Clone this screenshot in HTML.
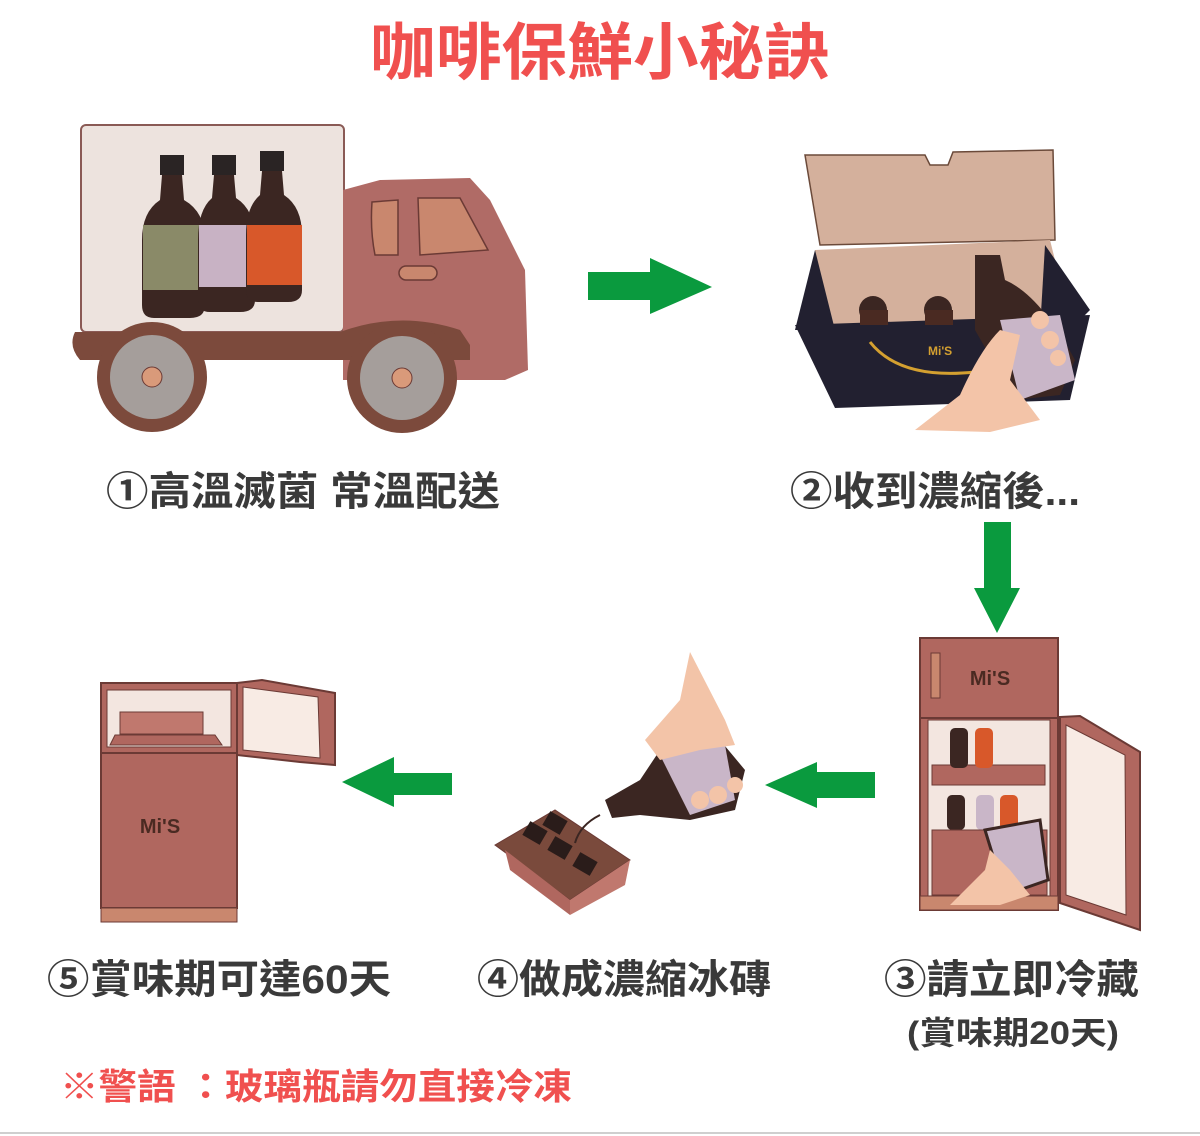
<!DOCTYPE html>
<html><head><meta charset="utf-8"><style>
html,body{margin:0;padding:0;background:#fff;width:1200px;height:1136px;overflow:hidden}
svg{display:block}
text{font-family:"Liberation Sans","Noto Sans CJK TC",sans-serif;font-weight:bold}
</style></head><body>
<svg width="1200" height="1136" viewBox="0 0 1200 1136">
<text x="370" y="74" font-size="62" fill="#f0504f" textLength="460" lengthAdjust="spacingAndGlyphs">咖啡保鮮小秘訣</text>

<!-- Truck -->
<rect x="81" y="125" width="263" height="207" rx="5" fill="#ede3de" stroke="#8a5a55" stroke-width="2"/>
<path d="M343 190 L380 180 L470 178 L490 200 L525 270 L528 370 L505 380 L343 380 Z" fill="#b06b66"/>
<path d="M372 202 L398 200 L398 255 L375 255 Q370 230 372 202Z" fill="#c9876e" stroke="#6b3a35" stroke-width="1.5"/>
<path d="M418 198 L460 198 L488 250 L420 255 Z" fill="#c9876e" stroke="#6b3a35" stroke-width="1.5"/>
<rect x="399" y="266" width="38" height="14" rx="7" fill="#c9876e" stroke="#6b3a35" stroke-width="1.5"/>
<path d="M75 332 L340 332 Q400 310 460 330 L470 345 L470 360 L80 360 Q68 346 75 332Z" fill="#7c4a3c"/>
<circle cx="152" cy="377" r="55" fill="#7c4a3c"/>
<circle cx="152" cy="377" r="42" fill="#a59e9b"/>
<circle cx="152" cy="377" r="10" fill="#d99a7a" stroke="#6b3a35"/>
<circle cx="402" cy="378" r="55" fill="#7c4a3c"/>
<circle cx="402" cy="378" r="42" fill="#a59e9b"/>
<circle cx="402" cy="378" r="10" fill="#d99a7a" stroke="#6b3a35"/>
<g>
<rect x="160" y="155" width="24" height="20" fill="#2a2424"/>
<path d="M162 175 L182 175 L184 200 Q205 212 205 240 L205 305 Q205 318 190 318 L154 318 Q142 318 142 305 L142 240 Q142 212 160 200Z" fill="#3b2622"/>
<rect x="143" y="225" width="62" height="65" fill="#8a8a68"/>
<rect x="212" y="155" width="24" height="20" fill="#2a2424"/>
<path d="M214 175 L234 175 L236 198 Q255 210 255 240 L255 300 Q255 312 240 312 L210 312 Q198 312 198 300 L198 240 Q198 210 212 198Z" fill="#3b2622"/>
<rect x="199" y="225" width="56" height="62" fill="#c8b2c4"/>
<rect x="260" y="151" width="24" height="20" fill="#2a2424"/>
<path d="M262 171 L282 171 L284 195 Q302 207 302 235 L302 290 Q302 302 288 302 L258 302 Q246 302 246 290 L246 235 Q246 207 260 195Z" fill="#3b2622"/>
<rect x="247" y="225" width="55" height="60" fill="#d8582a"/>
</g>

<!-- green arrows -->
<path d="M588 272 L650 272 L650 258 L712 287 L650 314 L650 300 L588 300Z" fill="#0a9a3e"/>
<path d="M984 522 L1011 522 L1011 588 L1020 588 L997 633 L974 588 L984 588Z" fill="#0a9a3e"/>
<path d="M875 772 L817 772 L817 762 L765 785 L817 808 L817 798 L875 798Z" fill="#0a9a3e"/>
<path d="M452 773 L394 773 L394 757 L342 782 L394 807 L394 795 L452 795Z" fill="#0a9a3e"/>

<!-- Box -->
<path d="M805 155 L925 155 L930 165 L948 165 L953 152 L1053 150 L1055 240 L820 245Z" fill="#d4b09c" stroke="#6b4a3a" stroke-width="1.5"/>
<path d="M815 250 L1050 240 L1070 320 L825 325Z" fill="#d4b09c"/>
<path d="M815 250 L835 330 L795 330Z" fill="#222030"/>
<path d="M1045 245 L1090 310 L1070 330 L1040 330Z" fill="#222030"/>
<path d="M795 325 L1090 315 L1070 400 L835 408 Z" fill="#222030"/>
<circle cx="873" cy="310" r="14" fill="#3b2622"/><circle cx="938" cy="310" r="14" fill="#3b2622"/>
<rect x="860" y="310" width="28" height="15" fill="#4a2a22"/><rect x="925" y="310" width="28" height="15" fill="#4a2a22"/>
<path d="M870 342 Q900 380 975 372" stroke="#d4a030" stroke-width="3" fill="none"/>
<text x="928" y="355" font-size="12" fill="#d4a030">Mi'S</text>
<path d="M975 255 L1000 255 L1005 280 Q1040 295 1075 360 L1060 395 L1015 400 L975 330Z" fill="#3b2622"/>
<path d="M1000 320 L1060 315 L1075 380 L1020 400Z" fill="#c9b6c8"/>
<path d="M915 430 L960 395 Q980 350 1000 330 L1020 335 L1010 380 L1040 420 L990 432Z" fill="#f3c4a8"/>
<circle cx="1040" cy="320" r="9" fill="#f3c4a8"/><circle cx="1050" cy="340" r="9" fill="#f3c4a8"/><circle cx="1058" cy="358" r="8" fill="#f3c4a8"/>

<text x="106" y="505" font-size="40" fill="#3a3a3a" textLength="394" lengthAdjust="spacingAndGlyphs">①高溫滅菌 常溫配送</text>
<text x="790" y="505" font-size="40" fill="#3a3a3a" textLength="290" lengthAdjust="spacingAndGlyphs">②收到濃縮後...</text>

<!-- Right fridge -->
<rect x="920" y="638" width="138" height="80" fill="#b0675f" stroke="#6b3a35" stroke-width="2"/>
<rect x="931" y="653" width="9" height="45" fill="#c9876e" stroke="#6b3a35"/>
<text x="990" y="685" text-anchor="middle" font-size="20" fill="#4a2a22">Mi'S</text>
<rect x="920" y="718" width="138" height="192" fill="#b0675f" stroke="#6b3a35" stroke-width="2"/>
<rect x="928" y="720" width="122" height="180" fill="#f3e6e0" stroke="#6b3a35"/>
<path d="M932 765 L1045 765 L1045 785 L932 785Z" fill="#b0675f" stroke="#6b3a35"/>
<rect x="950" y="728" width="18" height="40" rx="5" fill="#3b2622"/><rect x="975" y="728" width="18" height="40" rx="5" fill="#d8582a"/>
<rect x="947" y="795" width="18" height="35" rx="5" fill="#3b2622"/><rect x="976" y="795" width="18" height="35" rx="5" fill="#c9b6c8"/><rect x="1000" y="795" width="18" height="35" rx="5" fill="#d8582a"/>
<rect x="932" y="830" width="115" height="65" fill="#b0675f" stroke="#6b3a35"/>
<rect x="920" y="896" width="138" height="14" fill="#c9876e" stroke="#6b3a35"/>
<path d="M1060 717 L1080 716 L1140 752 L1140 930 L1060 903Z" fill="#b0675f" stroke="#6b3a35" stroke-width="2"/>
<path d="M1066 725 L1125 755 L1126 915 L1066 895Z" fill="#f8ebe4" stroke="#6b3a35"/>
<path d="M985 830 L1040 820 L1048 880 L1005 895Z" fill="#c9b6c8" stroke="#3b2622" stroke-width="3"/>
<path d="M950 905 L985 870 L990 850 L1010 870 L1030 895 L1000 905Z" fill="#f3c4a8"/>

<!-- ice tray + pouring hand -->
<path d="M495 845 L555 810 L630 860 L570 900Z" fill="#7a4a3c" stroke="#6b3a35"/>
<path d="M505 850 L570 900 L570 915 L510 870Z" fill="#b0675f"/>
<path d="M570 900 L630 860 L625 885 L570 915Z" fill="#c0786e"/>
<rect x="525" y="825" width="20" height="16" fill="#2a1c1a" transform="rotate(30 535 833)"/>
<rect x="550" y="840" width="20" height="16" fill="#2a1c1a" transform="rotate(30 560 848)"/>
<rect x="575" y="856" width="20" height="16" fill="#2a1c1a" transform="rotate(30 585 864)"/>
<rect x="545" y="815" width="20" height="16" fill="#2a1c1a" transform="rotate(30 555 823)"/>
<path d="M575 843 Q580 825 600 815" stroke="#3b2622" stroke-width="2" fill="none"/>
<path d="M605 800 L640 780 L660 750 L720 740 L745 770 L735 810 L690 820 L640 815 L612 818Z" fill="#3b2622"/>
<path d="M660 755 L725 745 L735 800 L690 815Z" fill="#c9b6c8"/>
<path d="M690 652 L725 720 L735 745 L700 750 L660 760 L645 740 L680 700Z" fill="#f3c4a8"/>
<circle cx="700" cy="800" r="9" fill="#f3c4a8"/><circle cx="718" cy="795" r="9" fill="#f3c4a8"/><circle cx="735" cy="785" r="8" fill="#f3c4a8"/>

<!-- left fridge -->
<rect x="101" y="683" width="136" height="70" fill="#b0675f" stroke="#6b3a35" stroke-width="2"/>
<rect x="107" y="690" width="124" height="57" fill="#f3e6e0" stroke="#6b3a35"/>
<path d="M115 735 L215 735 L222 745 L110 745Z" fill="#b0675f" stroke="#6b3a35"/>
<rect x="120" y="712" width="83" height="22" fill="#c0786e" stroke="#6b3a35"/>
<rect x="101" y="753" width="136" height="155" fill="#b0675f" stroke="#6b3a35" stroke-width="2"/>
<rect x="101" y="908" width="136" height="14" fill="#c9876e" stroke="#6b3a35"/>
<text x="160" y="833" text-anchor="middle" font-size="20" fill="#4a2a22">Mi'S</text>
<path d="M237 683 L262 680 L335 693 L335 765 L300 762 L237 755Z" fill="#b0675f" stroke="#6b3a35" stroke-width="2"/>
<path d="M243 687 L318 697 L320 758 L243 750Z" fill="#f8ebe4" stroke="#6b3a35"/>

<text x="47" y="993" font-size="40" fill="#3a3a3a" textLength="344" lengthAdjust="spacingAndGlyphs">⑤賞味期可達60天</text>
<text x="477" y="993" font-size="40" fill="#3a3a3a" textLength="294" lengthAdjust="spacingAndGlyphs">④做成濃縮冰磚</text>
<text x="884" y="993" font-size="40" fill="#3a3a3a" textLength="255" lengthAdjust="spacingAndGlyphs">③請立即冷藏</text>
<text x="907" y="1044" font-size="32" fill="#3a3a3a" textLength="212" lengthAdjust="spacingAndGlyphs">(賞味期20天)</text>
<text x="60" y="1099" font-size="36" fill="#f0504f" textLength="512" lengthAdjust="spacingAndGlyphs">※警語 ：玻璃瓶請勿直接冷凍</text>
<rect x="0" y="1132" width="1200" height="2" fill="#cfcfcf"/>
</svg>
</body></html>
